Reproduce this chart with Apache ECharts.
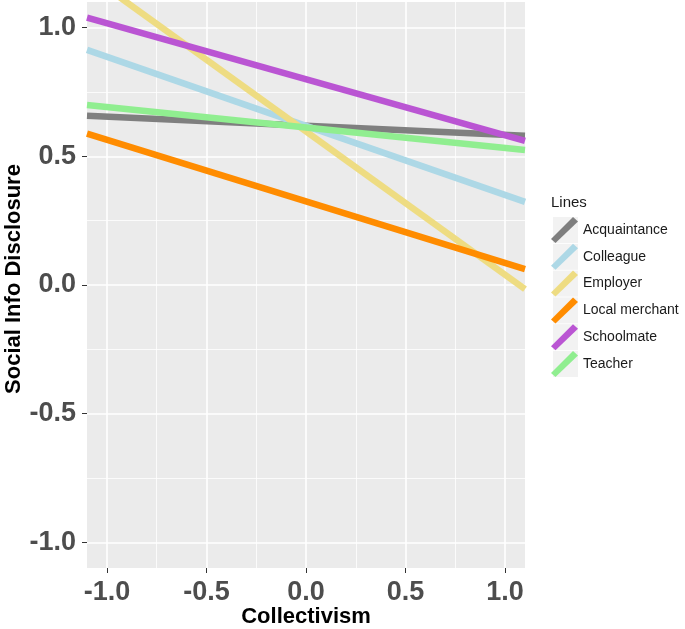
<!DOCTYPE html>
<html>
<head>
<meta charset="utf-8">
<script src="https://cdn.jsdelivr.net/npm/echarts@6/dist/echarts.min.js"></script>
<style>html,body{margin:0;padding:0;background:#fff}#c{width:685px;height:629px}</style>
</head>
<body>
<div id="c"></div>
<script>
// Data
const xRange = [-1.1, 1.1];
const names = ['Acquaintance', 'Colleague', 'Employer', 'Local merchant', 'Schoolmate', 'Teacher'];
const acquaintance = [0.658, 0.580];
const colleague = [0.914, 0.323];
const employer = [1.210, -0.016];
const localMerchant = [0.588, 0.062];
const schoolmate = [1.039, 0.560];
const teacher = [0.700, 0.525];
const majorTicks = [-1.0, -0.5, 0.0, 0.5, 1.0];
const minorTicks = [-0.75, -0.25, 0.25, 0.75];
const tickLabels = ['-1.0', '-0.5', '0.0', '0.5', '1.0'];

const colors = ['#7F7F7F', '#ADD8E6', '#EEDC82', '#FF8C00', '#BA55D3', '#90EE90'];
const values = [acquaintance, colleague, employer, localMerchant, schoolmate, teacher];
const FONT = 'Liberation Sans, Arial, sans-serif';

const chart = echarts.init(document.getElementById('c'));

function labelStyle() {
  return {
    customValues: majorTicks, margin: 11,
    fontFamily: FONT, fontWeight: 'bold', fontSize: 27, color: '#4D4D4D',
    formatter: v => tickLabels[majorTicks.findIndex(t => Math.abs(t - v) < 1e-9)] ?? v.toFixed(1)
  };
}
function mainAxis(extra) {
  return Object.assign({
    type: 'value', min: -1.1, max: 1.1,
    axisLine: {show: false, onZero: false},
    axisTick: {show: true, length: 5, lineStyle: {color: '#333', width: 1}, customValues: majorTicks},
    axisLabel: labelStyle(),
    splitLine: {show: true, lineStyle: {color: '#FFFFFF', width: 1.6}}
  }, extra);
}
function minorAxis(extra) {
  return Object.assign({
    type: 'value', min: -1.1, max: 1.1,
    axisLine: {show: false, onZero: false},
    axisTick: {show: false, customValues: minorTicks},
    axisLabel: {show: false, customValues: minorTicks},
    splitLine: {show: true, lineStyle: {color: '#FFFFFF', width: 0.8}}
  }, extra);
}

const boxTop = 217, boxH = 26, boxGap = 0.8;
const keyBoxes = names.map((n, i) => ({
  type: 'rect', z: -1,
  shape: {x: 553, y: boxTop + i * (boxH + boxGap), width: 25, height: boxH},
  style: {fill: '#F2F2F2'}
}));

chart.setOption({
  animation: false,
  grid: {left: 87, right: 160, top: 2, bottom: 61, show: true, backgroundColor: '#EBEBEB', borderWidth: 0,
         containLabel: false, outerBoundsMode: 'none'},
  xAxis: [
    mainAxis({}),
    minorAxis({position: 'bottom'})
  ],
  yAxis: [
    mainAxis({}),
    minorAxis({position: 'left'})
  ],
  legend: {
    orient: 'vertical', left: 551, top: boxTop, padding: 0, itemWidth: 27, itemHeight: boxH, itemGap: boxGap,
    data: names.map(n => ({name: n, icon: 'path://M0,22L22,0L27,4.5L4.5,26Z'})),
    textStyle: {fontFamily: FONT, fontSize: 14, color: '#1A1A1A'},
    itemStyle: {borderWidth: 0}
  },
  graphic: [
    {type: 'text', left: 551, top: 195, style: {text: 'Lines', fontFamily: FONT, fontSize: 15, fill: '#1A1A1A'}},
    {type: 'text', x: 14, y: 279, rotation: Math.PI / 2,
     style: {text: 'Social Info Disclosure', fontFamily: FONT, fontWeight: 'bold', fontSize: 22, fill: '#000',
             align: 'center', verticalAlign: 'middle'}},
    {type: 'text', x: 306, y: 617,
     style: {text: 'Collectivism', fontFamily: FONT, fontWeight: 'bold', fontSize: 22, fill: '#000',
             align: 'center', verticalAlign: 'middle'}},
    ...keyBoxes
  ],
  series: names.map((n, i) => ({
    name: n, type: 'line', xAxisIndex: 0, yAxisIndex: 0,
    data: xRange.map((x, j) => [x, values[i][j]]),
    showSymbol: false, symbol: 'none', clip: true,
    lineStyle: {color: colors[i], width: 6.5, cap: 'butt'},
    itemStyle: {color: colors[i]},
    z: 2 + i * 0.01
  }))
});
</script>
</body>
</html>
